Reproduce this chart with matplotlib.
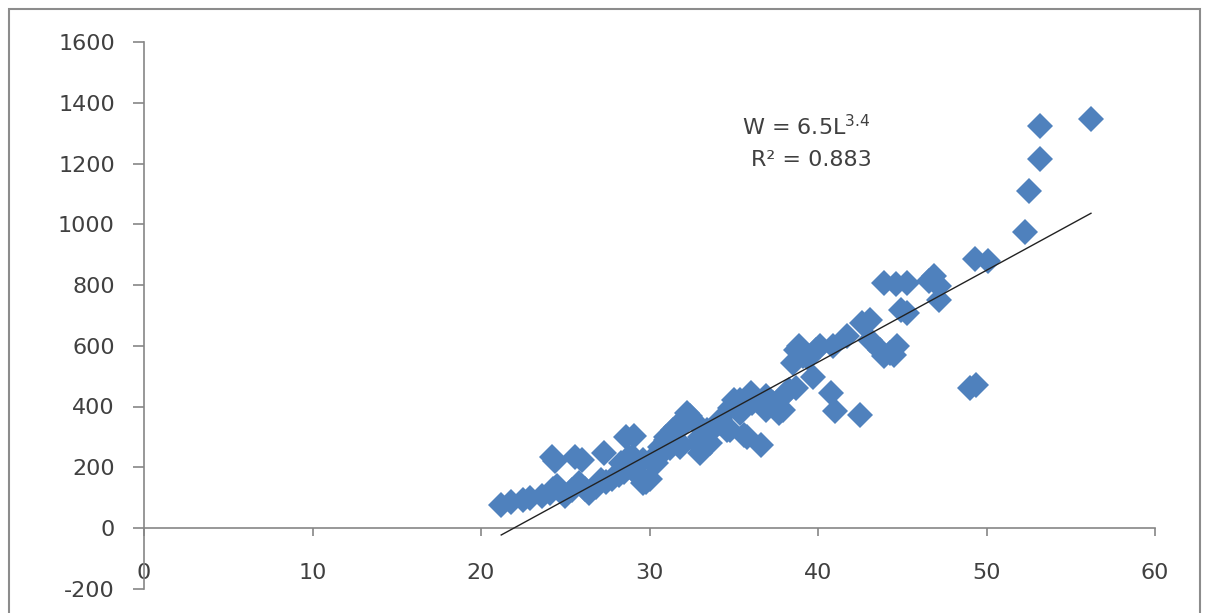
import matplotlib.pyplot as plt
from matplotlib.patches import Rectangle
import numpy as np

plt.rcParams['axes.unicode_minus'] = False

# length (L) and weight (W)
length = [21.2, 21.8, 22.5, 22.9, 23.6, 24.1, 24.3, 24.5, 24.8, 25.0,
          25.4, 25.8, 26.2, 26.4, 26.8, 27.1, 27.4, 27.8, 28.2, 28.5,
          24.2, 24.4, 25.6, 26.0, 27.3, 28.6, 29.1, 28.8, 28.3, 29.0,
          29.0, 29.4, 29.6, 29.8, 30.0, 29.6, 30.2, 30.4, 30.4, 30.6,
          30.8, 31.0, 31.0, 31.2, 31.4, 31.4, 31.6, 31.8, 31.8, 32.0,
          32.2, 32.4, 32.6, 32.8, 33.0, 33.0, 33.2, 33.4, 33.4, 33.6,
          33.8, 34.2, 34.2, 34.6, 34.8, 34.8, 35.0, 35.4, 35.4, 35.6,
          35.8, 36.0, 36.1, 36.6, 36.9, 36.9, 37.3, 37.5, 37.7, 37.9,
          38.1, 38.3, 38.7, 38.7, 38.5, 38.9, 39.1, 39.4, 39.9, 40.1,
          39.7, 40.8, 41.0, 42.5, 40.9, 41.7, 42.6, 43.1, 43.1, 43.7,
          44.3, 44.7, 43.9, 44.5, 43.9, 44.6, 45.3, 44.9, 45.3, 46.6,
          46.9, 47.2, 47.2, 49.0, 49.4, 49.3, 50.1, 52.3, 52.5, 53.2,
          53.2, 56.2]
weight = [75, 85, 92, 100, 105, 115, 130, 138, 118, 105,
          125, 148, 130, 115, 135, 158, 150, 160, 175, 185,
          235, 222, 235, 224, 248, 300, 302, 235, 214, 190,
          234, 170, 225, 150, 160, 148, 214, 240, 214, 268,
          250, 290, 300, 265, 323, 300, 333, 280, 268, 340,
          378, 370, 356, 280, 300, 247, 260, 323, 280, 280,
          330, 346, 356, 323, 395, 323, 421, 379, 422, 306,
          300, 444, 412, 273, 433, 389, 410, 410, 378, 389,
          445, 455, 460, 587, 544, 598, 565, 560, 587, 598,
          498, 445, 384, 373, 598, 631, 676, 686, 620, 587,
          577, 598, 565, 570, 808, 802, 808, 719, 709, 813,
          829, 796, 752, 462, 472, 884, 879, 973, 1110, 1214,
          1324, 1346]

# linear trendline as shown on the chart
trend_slope = 30.26
trend_intercept = -664.5

x_ticks = [0, 10, 20, 30, 40, 50, 60]
y_ticks = [-200, 0, 200, 400, 600, 800, 1000, 1200, 1400, 1600]

grey = '#868686'
txt = '#404040'

fig = plt.figure(figsize=(12.05, 6.13), dpi=100)
ax = fig.add_axes([144 / 1205, 1 - 588.75 / 613, (1155 - 144) / 1205, (588.75 - 42) / 613])

ax.plot(length, weight, linestyle='none', marker='D', markersize=13,
        color='#4F81BD', markeredgewidth=0, zorder=2)

tx = np.array([min(length), max(length)])
ax.plot(tx, trend_slope * tx + trend_intercept, color='#222222', linewidth=1.0, zorder=3)

ax.set_xlim(0, 60)
ax.set_ylim(-200, 1600)
ax.set_xticks(x_ticks)
ax.set_yticks(y_ticks)

for s in ['top', 'right']:
    ax.spines[s].set_visible(False)
ax.spines['bottom'].set_position(('data', 0))
ax.spines['bottom'].set_color(grey)
ax.spines['left'].set_color(grey)
ax.spines['bottom'].set_linewidth(1.2)
ax.spines['left'].set_linewidth(1.2)

ax.tick_params(axis='y', direction='out', length=8, width=1.2, color=grey, pad=13,
               labelsize=16, labelcolor=txt)
ax.tick_params(axis='x', direction='out', length=6, width=1.2, color=grey, pad=19,
               labelsize=16, labelcolor=txt)

ax.text(39.3, 1322, 'W = 6.5L$^{3.4}$', ha='center', va='center', fontsize=16, color=txt)
ax.text(39.6, 1212, 'R² = 0.883', ha='center', va='center', fontsize=16, color=txt)

# chart-area border
fig.patches.append(Rectangle((9 / 1205, -0.1), (1200 - 9) / 1205, 1.1 - 9 / 613,
                             transform=fig.transFigure, fill=False,
                             edgecolor='#8c8c8c', linewidth=1.5))

plt.savefig('out.png', dpi=100)
